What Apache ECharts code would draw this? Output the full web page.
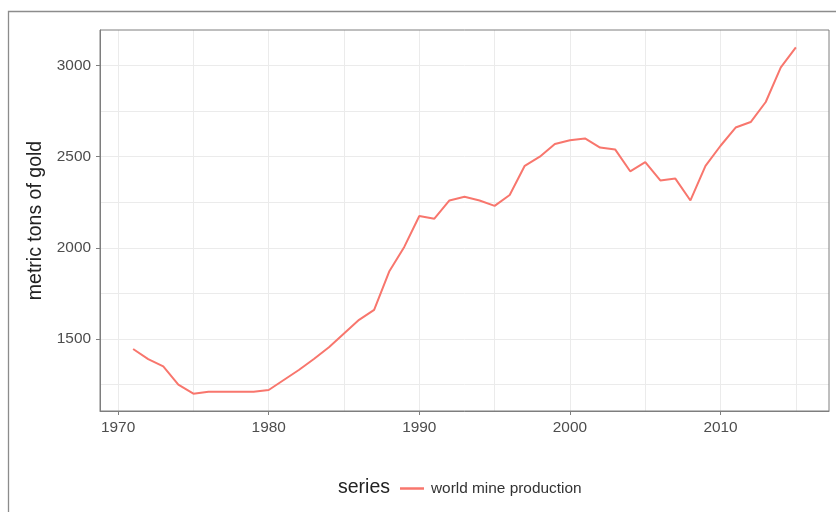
<!DOCTYPE html>
<html>
<head>
<meta charset="utf-8">
<script src="https://cdn.jsdelivr.net/npm/echarts@6/dist/echarts.min.js"></script>
<style>
  html, body { margin: 0; padding: 0; background: #fff; }
  #chart { width: 836px; height: 512px; }
</style>
</head>
<body>
<div id="chart"></div>
<script>
// data
var years = [1971, 1972, 1973, 1974, 1975, 1976, 1977, 1978, 1979, 1980,
    1981, 1982, 1983, 1984, 1985, 1986, 1987, 1988, 1989, 1990,
    1991, 1992, 1993, 1994, 1995, 1996, 1997, 1998, 1999, 2000,
    2001, 2002, 2003, 2004, 2005, 2006, 2007, 2008, 2009, 2010,
    2011, 2012, 2013, 2014, 2015];
var production = [1445, 1390, 1350, 1250, 1200, 1210, 1210, 1210, 1210, 1220,
    1275, 1330, 1390, 1455, 1530, 1605, 1660, 1870, 2005, 2175,
    2160, 2260, 2280, 2260, 2230, 2290, 2450, 2500, 2570, 2590,
    2600, 2550, 2540, 2420, 2470, 2370, 2380, 2260, 2450, 2560,
    2660, 2690, 2800, 2990, 3100];
var xTicks = [1970, 1980, 1990, 2000, 2010];
var xMinor = [1975, 1985, 1995, 2005, 2015];
var yTicks = [1500, 2000, 2500, 3000];
var yMinor = [1250, 1750, 2250, 2750];
var seriesName = 'world mine production';

// ggplot style 5% padding
function padded(arr) {
    var lo = Math.min.apply(null, arr), hi = Math.max.apply(null, arr);
    var d = (hi - lo) * 0.05;
    return [lo - d, hi + d];
}
var xr = padded(years), yr = padded(production);

var gridColor = '#ebebeb';
var axisColor = '#7f7f7f';
var font = '"Liberation Sans", Arial, Helvetica, sans-serif';

var minorLines = xMinor.map(function (v) { return { xAxis: v }; })
    .concat(yMinor.map(function (v) { return { yAxis: v }; }));

var chart = echarts.init(document.getElementById('chart'));
chart.setOption({
    animation: false,
    textStyle: { fontFamily: font },
    graphic: [{
        type: 'rect',
        shape: { x: 8.5, y: 11.5, width: 900, height: 600 },
        style: { fill: 'none', stroke: '#8c8c8c', lineWidth: 1.3 },
        silent: true
    }],
    title: {
        text: 'series',
        left: 333, top: 473,
        textStyle: { fontSize: 19.5, fontWeight: 'normal', color: '#222', fontFamily: font }
    },
    legend: {
        data: [seriesName],
        left: 395, top: 476,
        icon: 'rect',
        itemWidth: 24, itemHeight: 2.5,
        itemGap: 10,
        textStyle: { fontSize: 15.4, color: '#333', fontFamily: font, padding: [0, 0, 0, 2] }
    },
    grid: {
        left: 100, top: 30, right: 7, bottom: 101,
        show: true, borderColor: axisColor, borderWidth: 1, z: 4
    },
    xAxis: {
        type: 'value',
        min: xr[0], max: xr[1],
        z: 2,
        axisLine: { show: true, lineStyle: { color: axisColor } },
        axisTick: { show: true, length: 4, customValues: xTicks, lineStyle: { color: axisColor } },
        axisLabel: {
            customValues: xTicks, margin: 9, fontSize: 15.4, color: '#4d4d4d',
            formatter: function (v) { return String(v); }
        },
        splitLine: { show: true, lineStyle: { color: gridColor, width: 1 } }
    },
    yAxis: {
        type: 'value',
        min: yr[0], max: yr[1],
        z: 2,
        name: 'metric tons of gold',
        nameLocation: 'middle',
        nameGap: 54,
        nameTextStyle: { fontSize: 19.5, color: '#222', fontFamily: font },
        axisLine: { show: true, lineStyle: { color: axisColor } },
        axisTick: { show: true, length: 4, customValues: yTicks, lineStyle: { color: axisColor } },
        axisLabel: {
            customValues: yTicks, margin: 9, fontSize: 15.4, color: '#4d4d4d',
            formatter: function (v) { return String(v); }
        },
        splitLine: { show: true, lineStyle: { color: gridColor, width: 1 } }
    },
    series: [{
        // minor grid lines
        name: 'minor',
        type: 'line',
        data: [],
        silent: true,
        z: 1,
        markLine: {
            silent: true,
            z: 1,
            symbol: 'none',
            label: { show: false },
            lineStyle: { type: 'solid', color: gridColor, width: 1 },
            data: minorLines
        }
    }, {
        name: seriesName,
        type: 'line',
        data: years.map(function (y, i) { return [y, production[i]]; }),
        showSymbol: false,
        symbol: 'none',
        z: 3,
        itemStyle: { color: '#F8766D' },
        lineStyle: { color: '#F8766D', width: 2 }
    }]
});
</script>
</body>
</html>
